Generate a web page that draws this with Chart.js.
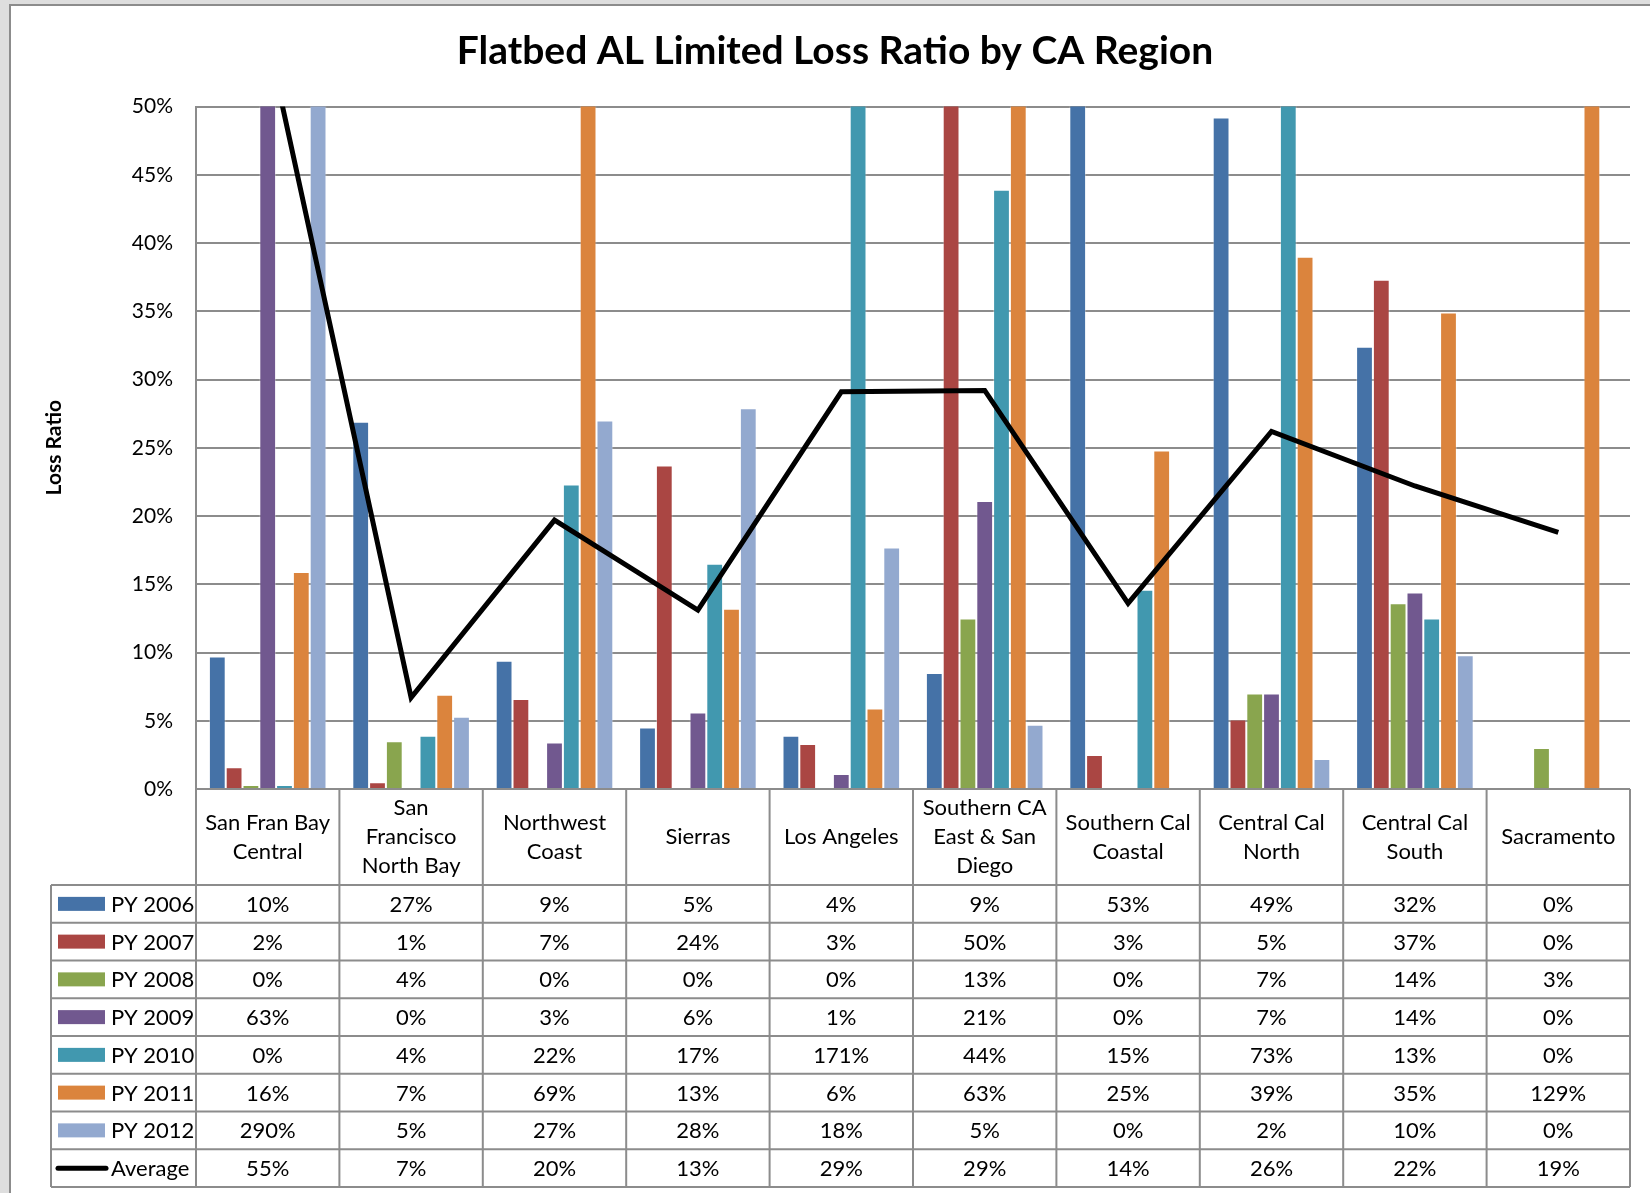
<!DOCTYPE html>
<html>
<head>
<meta charset="utf-8">
<title>Flatbed AL Limited Loss Ratio by CA Region</title>
<script src="https://cdn.jsdelivr.net/npm/chart.js@4.4.1/dist/chart.umd.min.js"></script>
<style>
  html, body { margin: 0; padding: 0; background: #dedede; overflow: hidden; }
  #panel { position: absolute; left: 9px; top: 4px; right: -40px; bottom: -40px;
           background: #fff; border-style: solid; border-color: #8c8c8c;
           border-width: 2px 0 0 2px; }
  #myChart { position: absolute; left: 0; top: 0; }
</style>
</head>
<body>
<div id="panel"></div>
<canvas id="myChart" width="1640" height="1193"></canvas>
<script>
// regions, one label line per array entry
const regions = [
    ['San Fran Bay', 'Central'],
    ['San', 'Francisco', 'North Bay'],
    ['Northwest', 'Coast'],
    ['Sierras'],
    ['Los Angeles'],
    ['Southern CA', 'East & San', 'Diego'],
    ['Southern Cal', 'Coastal'],
    ['Central Cal', 'North'],
    ['Central Cal', 'South'],
    ['Sacramento']
];

const py2006 = [0.097, 0.269, 0.094, 0.045, 0.039, 0.085, 0.53, 0.492, 0.324, 0];
const py2007 = [0.016, 0.005, 0.066, 0.237, 0.033, 0.503, 0.025, 0.051, 0.373, 0];
const py2008 = [0.003, 0.035, 0, 0, 0, 0.125, 0, 0.07, 0.136, 0.03];
const py2009 = [0.63, 0, 0.034, 0.056, 0.011, 0.211, 0, 0.07, 0.144, 0];
const py2010 = [0.003, 0.039, 0.223, 0.165, 1.71, 0.439, 0.146, 0.73, 0.125, 0];
const py2011 = [0.159, 0.069, 0.69, 0.132, 0.059, 0.63, 0.248, 0.39, 0.349, 1.29];
const py2012 = [2.90, 0.053, 0.27, 0.279, 0.177, 0.047, 0, 0.022, 0.098, 0];
const average = [0.55, 0.067, 0.197, 0.131, 0.291, 0.292, 0.136, 0.262, 0.222, 0.188];

const yTicks = [0, 0.05, 0.10, 0.15, 0.20, 0.25, 0.30, 0.35, 0.40, 0.45, 0.50];

const FONT = 'Lato, "Open Sans", sans-serif';
const LINE_GRAY = '#8c8c8c';

function pct(v) {
    return Math.round(v * 100) + '%';
}

function barSet(label, values, color) {
    return {
        type: 'bar',
        label: label,
        data: values,
        backgroundColor: color,
        borderColor: 'rgba(255,255,255,0.35)',
        borderWidth: 1,
        clip: 0,
        order: 1
    };
}

let datasets = [
    barSet('PY 2006', py2006, '#4572a7'),
    barSet('PY 2007', py2007, '#aa4643'),
    barSet('PY 2008', py2008, '#89a54e'),
    barSet('PY 2009', py2009, '#71588f'),
    barSet('PY 2010', py2010, '#4198af'),
    barSet('PY 2011', py2011, '#db843d'),
    barSet('PY 2012', py2012, '#93a9cf'),
    {
        type: 'line',
        label: 'Average',
        data: average,
        borderColor: '#000',
        backgroundColor: '#000',
        borderWidth: 5,
        borderJoinStyle: 'miter',
        pointRadius: 0,
        tension: 0,
        clip: 0,
        order: 0
    }
];

// data table under the plot: header row with regions, one row per series
const dataTable = {
    id: 'dataTable',
    afterDraw(chart) {
        const ctx = chart.ctx;
        const area = chart.chartArea;
        const x = chart.scales.x;
        const n = regions.length;
        const colW = (area.right - area.left) / n;
        const top = area.bottom;
        const headH = 96;
        const rowH = 37.75;
        const legLeft = 51;
        const rows = chart.data.datasets.length;
        const bottom = top + headH + rows * rowH;

        ctx.save();
        ctx.strokeStyle = LINE_GRAY;
        ctx.lineWidth = 2;
        ctx.beginPath();
        for (let i = 0; i <= n; i++) {
            const cx = area.left + i * colW;
            ctx.moveTo(cx, top);
            ctx.lineTo(cx, bottom);
        }
        ctx.moveTo(legLeft, top + headH);
        ctx.lineTo(legLeft, bottom);
        for (let r = 0; r <= rows; r++) {
            const y = top + headH + r * rowH;
            ctx.moveTo(legLeft, y);
            ctx.lineTo(area.right, y);
        }
        ctx.stroke();

        ctx.fillStyle = '#000';
        ctx.font = '22px ' + FONT;
        ctx.textAlign = 'center';
        ctx.textBaseline = 'middle';
        regions.forEach(function(lines, i) {
            const cx = x.getPixelForValue(i);
            const lh = 29;
            const y0 = top + headH / 2 - (lines.length - 1) * lh / 2;
            lines.forEach(function(t, k) {
                ctx.fillText(t, cx, y0 + k * lh);
            });
        });

        chart.data.datasets.forEach(function(ds, r) {
            const cy = top + headH + r * rowH + rowH / 2;
            ctx.textAlign = 'center';
            ds.data.forEach(function(v, i) {
                ctx.fillText(pct(v), x.getPixelForValue(i), cy + 1);
            });
            if (ds.type === 'line') {
                ctx.strokeStyle = '#000';
                ctx.lineWidth = 5;
                ctx.lineCap = 'round';
                ctx.beginPath();
                ctx.moveTo(58, cy);
                ctx.lineTo(106, cy);
                ctx.stroke();
            } else {
                ctx.fillStyle = ds.backgroundColor;
                ctx.fillRect(58, cy - 7, 47, 14);
            }
            ctx.fillStyle = '#000';
            ctx.textAlign = 'left';
            ctx.fillText(ds.label, 111, cy + 1);
        });
        ctx.restore();
    }
};

let myChart = new Chart(document.getElementById('myChart').getContext('2d'), {
    data: {
        labels: regions.map(function(r) { return r.join(' '); }),
        datasets: datasets
    },
    options: {
        responsive: false,
        devicePixelRatio: 1,
        animation: false,
        layout: { padding: { left: 40, right: 10, top: 0, bottom: 404 } },
        datasets: {
            bar: { barPercentage: 1, categoryPercentage: 0.82 }
        },
        plugins: {
            legend: { display: false },
            tooltip: { enabled: false },
            title: {
                display: true,
                text: 'Flatbed AL Limited Loss Ratio by CA Region',
                color: '#000',
                font: { family: FONT, size: 39, weight: 'bold', lineHeight: 1.2 },
                padding: { top: 28, bottom: 31.7 }
            }
        },
        scales: {
            x: { display: false },
            y: {
                min: 0,
                max: 0.5,
                afterFit(scale) {
                    scale.width = 156;
                    scale.paddingTop = 0;
                    scale.paddingBottom = 0;
                },
                afterBuildTicks(scale) {
                    scale.ticks = yTicks.map(function(v) { return { value: v }; });
                },
                ticks: {
                    color: '#000',
                    padding: 23,
                    font: { family: FONT, size: 21 },
                    callback: function(v) { return pct(v); }
                },
                grid: { color: LINE_GRAY, lineWidth: 2, drawTicks: false },
                border: { color: LINE_GRAY, width: 2 },
                title: {
                    display: true,
                    text: 'Loss Ratio',
                    color: '#000',
                    font: { family: FONT, size: 21, weight: 'bold', lineHeight: 1.2 },
                    padding: { top: 2, bottom: 0 }
                }
            }
        }
    },
    plugins: [dataTable]
});
</script>
</body>
</html>
